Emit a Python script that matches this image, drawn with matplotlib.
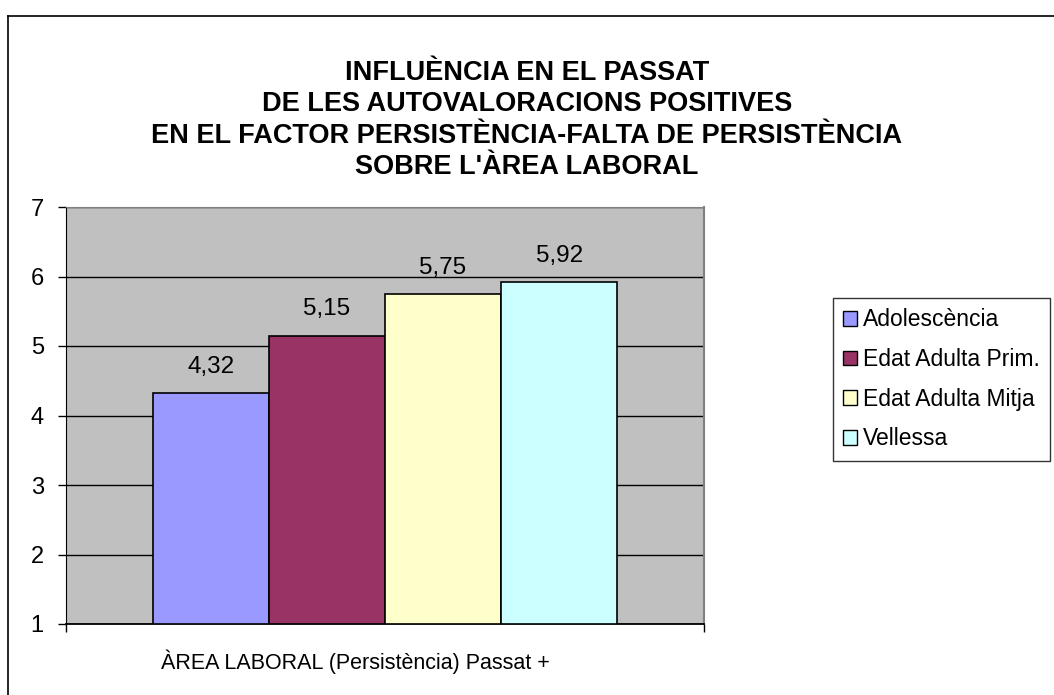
import matplotlib.pyplot as plt
from matplotlib.patches import Patch
from matplotlib.lines import Line2D

plt.rcParams['font.family'] = ['Liberation Sans', 'DejaVu Sans']

# Data
title = ("INFLUÈNCIA EN EL PASSAT\n"
         "DE LES AUTOVALORACIONS POSITIVES\n"
         "EN EL FACTOR PERSISTÈNCIA-FALTA DE PERSISTÈNCIA\n"
         "SOBRE L'ÀREA LABORAL")
category = "ÀREA LABORAL (Persistència) Passat +"
series = ["Adolescència", "Edat Adulta Prim.", "Edat Adulta Mitja", "Vellessa"]
values = [4.32, 5.15, 5.75, 5.92]
colors = ["#9999FF", "#993366", "#FFFFCC", "#CCFFFF"]
yticks = [1, 2, 3, 4, 5, 6, 7]

W, H = 1054, 695
fig = plt.figure(figsize=(W / 100, H / 100), dpi=100)

# outer chart frame (left and top edges visible)
fig.add_artist(Line2D([8 / W, 8 / W], [0, 1 - 16 / H], color='black', lw=1.2))
fig.add_artist(Line2D([8 / W, 1], [1 - 16 / H, 1 - 16 / H], color='black', lw=1.2))

ax = fig.add_axes([66 / W, 1 - 624 / H, (704 - 66) / W, (624 - 207) / H])
ax.set_facecolor('#C0C0C0')

bar_w = 0.182
n = len(values)
for i, (name, v, c) in enumerate(zip(series, values, colors)):
    x = (i - (n - 1) / 2) * bar_w
    ax.bar(x, v - 1, bottom=1, width=bar_w, color=c, edgecolor='black',
           linewidth=1.2, label=name, zorder=3)
    ax.text(x, v + 0.22, f"{v:.2f}".replace('.', ','), ha='center', va='bottom',
            fontsize=17.5, zorder=4)

ax.set_xlim(-0.5, 0.5)
ax.set_ylim(1, 7)
ax.set_yticks(yticks)
ax.set_yticklabels([str(t) for t in yticks], fontsize=17)
ax.yaxis.grid(True, color='black', lw=1, zorder=0)
ax.set_axisbelow(True)
ax.set_xticks([-0.5, 0.5])
ax.set_xticklabels(['', ''])
ax.tick_params(axis='y', length=6, width=1, direction='out', pad=10)
ax.tick_params(axis='x', length=6, width=1, direction='out')
ax.spines['left'].set_color('black')
ax.spines['bottom'].set_color('black')
ax.spines['bottom'].set_linewidth(1.3)
ax.spines['top'].set_color('#808080')
ax.spines['right'].set_color('#808080')
ax.spines['right'].set_linewidth(1.5)

fig.text(355 / W, 1 - 662 / H, category, ha='center', va='center', fontsize=15.5)

fig.text(527 / W, 1 - 120 / H, title, ha='center', va='center', fontsize=19.5,
         fontweight='bold', linespacing=1.27)

handles = [Patch(facecolor=c, edgecolor='black', linewidth=1) for c in colors]
leg = fig.legend(handles, series, loc='upper left',
                 bbox_to_anchor=(833 / W, 1 - 298 / H), fontsize=16.5,
                 frameon=True, fancybox=False, edgecolor='black',
                 handlelength=0.6, handleheight=0.6, handletextpad=0.25,
                 labelspacing=0.73, borderpad=0.45, borderaxespad=0)
leg.get_frame().set_linewidth(1)

fig.savefig('out.png', dpi=100)
